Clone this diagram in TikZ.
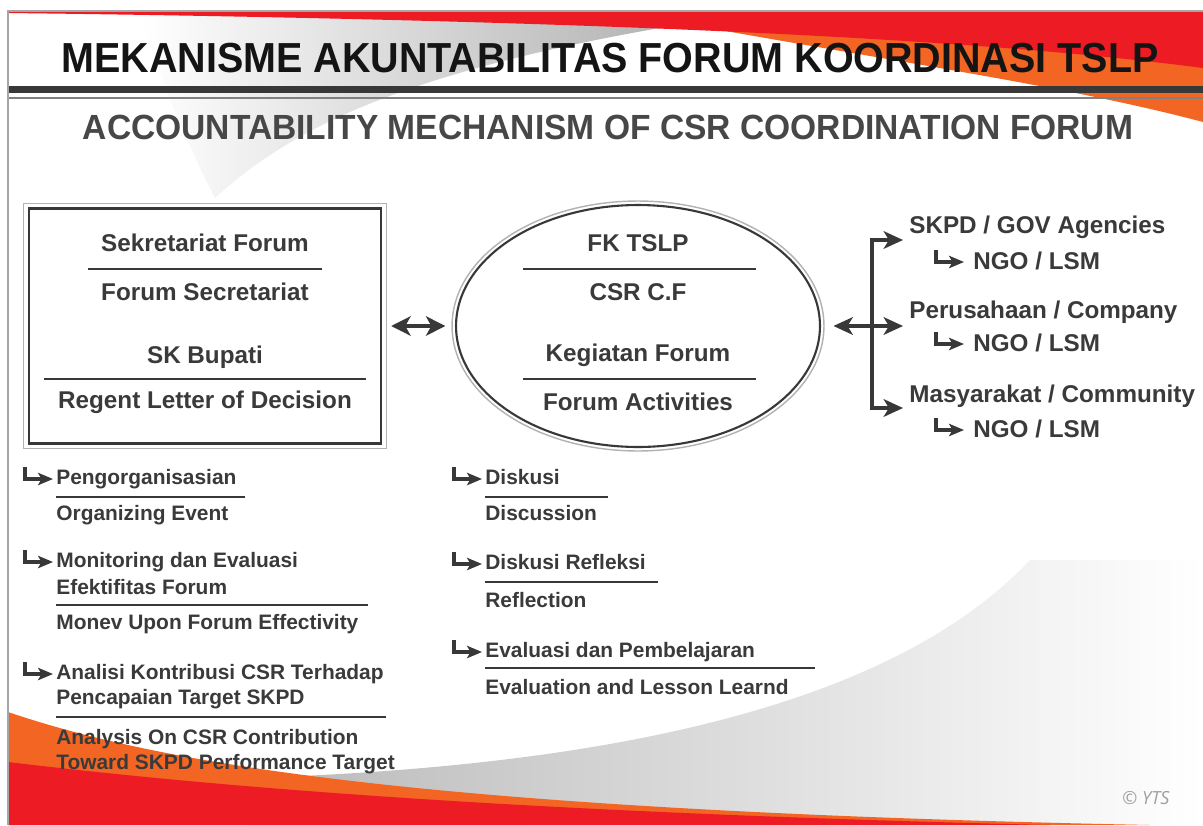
\documentclass[tikz,border=0pt]{standalone}
\usepackage{fontspec}
\setmainfont{Liberation Sans}
\newfontfamily\headfont[FakeStretch=0.94]{Liberation Sans}
\newfontfamily\subheadfont[FakeStretch=0.96]{Liberation Sans}
\newfontfamily\markfont{Open Sans}
\usetikzlibrary{arrows.meta,calc,positioning,shapes.geometric}

\definecolor{txtgray}{HTML}{3A3A3A}
\definecolor{linegray}{HTML}{383838}
\definecolor{slidered}{HTML}{ED1C24}
\definecolor{slideorange}{HTML}{F26522}

\tikzset{
  elbow/.pic={\draw[line width=1.8pt, draw=linegray, -{Stealth[length=8.5pt,width=7pt,inset=2pt]}] (0,-12) |- (28,0);}
}

\begin{document}
\begin{tikzpicture}[x=0.02cm, y=-0.02cm,
    body/.style={font=\bfseries\fontsize{13.8}{16}\selectfont, text=txtgray, inner sep=0pt, text height=9.9pt, text depth=0pt},
    item/.style={font=\bfseries\fontsize{11.9}{14}\selectfont, text=txtgray, inner sep=0pt, text height=8.6pt, text depth=0pt, anchor=west},
    rule/.style={draw=linegray, line width=1.4pt},
    twohead/.style={draw=linegray, line width=2.4pt, {Stealth[length=11pt,width=11pt,inset=3pt]}-{Stealth[length=11pt,width=11pt,inset=3pt]}},
    fork/.style={draw=linegray, line width=2.8pt, {Stealth[length=11pt,width=10pt,inset=3pt]}-{Stealth[length=11pt,width=10pt,inset=3pt]}}]
 \useasboundingbox (0,0) rectangle (1203,825);
 \fill[white] (0,0) rectangle (1203,825);
 \shade[left color=white, right color=gray!70] (140,12) -- (760,12) .. controls (430,60) and (300,120) .. (215,198) .. controls (190,150) and (160,80) .. (140,12) -- cycle;
 \fill[slideorange] (620,12) -- (1203,12) -- (1203,122) .. controls (1060,84) and (880,60) .. (620,12) -- cycle;
 \fill[slidered] (8,11) -- (1203,11) -- (1203,68) .. controls (1050,48) and (750,22) .. (8,13) -- cycle;
 \fill[linegray] (8,86) rectangle (1203,93);
 \draw[gray, line width=0.9pt] (8,98) -- (1203,98);
 \shade[left color=gray!55, middle color=gray!20, right color=white] (250,778) .. controls (560,768) and (880,720) .. (1030,560) -- (1203,560) -- (1203,825) -- (250,825) -- cycle;
 \fill[slideorange] (8,712) .. controls (150,760) and (400,810) .. (1150,825) -- (8,825) -- cycle;
 \fill[slidered] (8,762) .. controls (200,785) and (500,812) .. (1050,825) -- (8,825) -- cycle;
 \draw[gray!70, line width=0.8pt] (8,825) -- (8,11) -- (1203,11);

 \node[font=\headfont\bfseries\fontsize{23.9}{28}\selectfont, text=black!92, inner sep=0pt, text height=17.1pt, text depth=0pt] (title) at (610,57) {MEKANISME AKUNTABILITAS FORUM KOORDINASI TSLP};
 \node[font=\subheadfont\bfseries\fontsize{19.9}{24}\selectfont, text=black!72, inner sep=0pt, text height=14.2pt, text depth=0pt] (subtitle) at (608,127) {ACCOUNTABILITY MECHANISM OF CSR COORDINATION FORUM};

 \node[draw=linegray, line width=1.4pt, minimum width=7.04cm, minimum height=4.7cm, inner sep=0pt] (secbox) at (205,326) {};
 \node[draw=gray!60, line width=0.8pt, minimum width=7.26cm, minimum height=4.9cm, inner sep=0pt] (secrim) at (205,326) {};
 \node[body] (secA) at (205,243) {Sekretariat Forum};
 \node[body] (secB) at (205,292) {Forum Secretariat};
 \node[body] (skA) at (205,355) {SK Bupati};
 \node[body] (skB) at (205,400) {Regent Letter of Decision};
 \draw[rule] (88,269) -- (322,269);
 \draw[rule] (44,379) -- (366,379);

 \node[ellipse, draw=linegray, line width=1.2pt, minimum width=7.28cm, minimum height=4.84cm, inner sep=0pt] (forum) at (638,326) {};
 \node[ellipse, draw=gray!60, line width=0.8pt, minimum width=7.44cm, minimum height=5cm, inner sep=0pt] (forumrim) at (638,326) {};
 \node[body] (fkA) at (638,243) {FK TSLP};
 \node[body] (fkB) at (638,292) {CSR C.F};
 \node[body] (kgA) at (638,353) {Kegiatan Forum};
 \node[body] (kgB) at (638,402) {Forum Activities};
 \draw[rule] (523,269) -- (756,269);
 \draw[rule] (523,379) -- (756,379);

 \draw[twohead, shorten <=2.3pt, shorten >=3.4pt] (secrim.east) -- (forumrim.west);

 \coordinate (hub) at (872,326);
 \coordinate (tipA) at (903,240);
 \coordinate (tipB) at (903,326);
 \coordinate (tipC) at (903,408);
 \draw[fork] (tipA) -| (hub) |- (tipC);
 \draw[fork, shorten <=5pt] (forumrim.east) -- (tipB);

 \node[body, anchor=west] (skpd) at (909,225) {SKPD / GOV Agencies};
 \node[body, anchor=west] (ngoA) at (973,261) {NGO / LSM};
 \node[body, anchor=west] (comp) at (909,310) {Perusahaan / Company};
 \node[body, anchor=west] (ngoB) at (973,343) {NGO / LSM};
 \node[body, anchor=west] (comm) at (909,394) {Masyarakat / Community};
 \node[body, anchor=west] (ngoC) at (973,429) {NGO / LSM};
 \foreach \n in {ngoA,ngoB,ngoC}
   \pic at ([shift={(-37,1)}]\n.west) {elbow};

 \node[item] (pgA) at (56,477) {Pengorganisasian};
 \node[item] (pgB) at (56,513) {Organizing Event};
 \node[item] (mnA) at (56,560) {Monitoring dan Evaluasi};
 \node[item] (mnA2) at (56,587) {Efektifitas Forum};
 \node[item] (mnB) at (56,622) {Monev Upon Forum Effectivity};
 \node[item] (anA) at (56,672) {Analisi Kontribusi CSR Terhadap};
 \node[item] (anA2) at (56,697) {Pencapaian Target SKPD};
 \node[item] (anB) at (56,737) {Analysis On CSR Contribution};
 \node[item] (anB2) at (56,762) {Toward SKPD Performance Target};
 \draw[rule] (56,497) -- (245,497);
 \draw[rule] (56,605) -- (368,605);
 \draw[rule] (56,717) -- (386,717);

 \node[item] (dkA) at (485,477) {Diskusi};
 \node[item] (dkB) at (485,513) {Discussion};
 \node[item] (rfA) at (485,562) {Diskusi Refleksi};
 \node[item] (rfB) at (485,600) {Reflection};
 \node[item] (evA) at (485,650) {Evaluasi dan Pembelajaran};
 \node[item] (evB) at (485,687) {Evaluation and Lesson Learnd};
 \draw[rule] (485,497) -- (608,497);
 \draw[rule] (485,582) -- (658,582);
 \draw[rule] (485,668) -- (815,668);
 \foreach \n in {pgA,mnA,anA,dkA,rfA,evA}
   \pic at ([shift={(-31,2)}]\n.west) {elbow};

 \node[font=\markfont\itshape\fontsize{10.3}{12}\selectfont, text=gray!75, inner sep=0pt] (copy) at (1146,798) {© YTS};
\end{tikzpicture}
\end{document}
